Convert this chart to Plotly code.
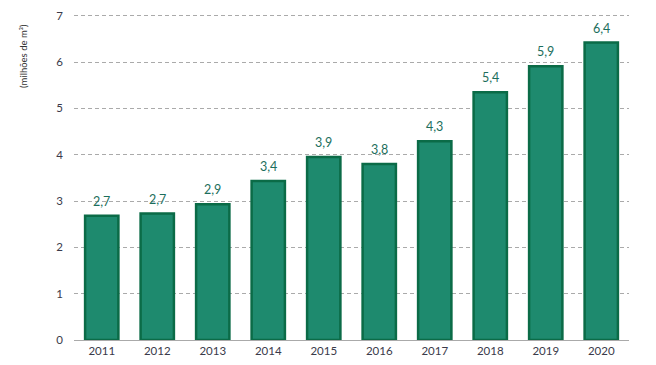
import plotly.graph_objects as go

years = ["2011", "2012", "2013", "2014", "2015", "2016", "2017", "2018", "2019", "2020"]
values = [2.68, 2.73, 2.93, 3.43, 3.95, 3.80, 4.29, 5.35, 5.91, 6.42]
labels = ["2,7", "2,7", "2,9", "3,4", "3,9", "3,8", "4,3", "5,4", "5,9", "6,4"]
y_ticks = [0, 1, 2, 3, 4, 5, 6, 7]

fig = go.Figure(go.Bar(
    x=years, y=values,
    marker=dict(color="#1e8a6e", line=dict(color="#0b6b47", width=2.5)),
    width=0.6,
))

# category axis: annotation positions use the category index
for i, (v, lab) in enumerate(zip(values, labels)):
    fig.add_annotation(
        x=i, y=v, text=lab, showarrow=False, yanchor="bottom", yshift=5,
        font=dict(color="#1c6e5c", size=12.5, family="Lato"),
    )

fig.update_layout(
    width=656, height=365,
    margin=dict(l=66, r=35, t=4, b=33, autoexpand=False),
    plot_bgcolor="white", paper_bgcolor="white",
    font=dict(family="Lato", size=11, color="#444"),
    showlegend=False,
)
fig.update_xaxes(
    type="category", range=[-0.5, len(years) - 0.5],
    showgrid=False, showline=True, linecolor="#aaa",
    linewidth=1, ticks="", automargin=False,
    tickfont=dict(size=11.5, color="#3a3a4a"),
)
fig.update_yaxes(
    range=[0, 7.08], tickvals=y_ticks, showgrid=True, gridcolor="#aaa",
    griddash="4px,3px", gridwidth=1, zeroline=False, showline=False,
    ticks="", automargin=False, ticklabelstandoff=10,
    ticklabeloverflow="allow",
    tickfont=dict(size=11.5, color="#3a3a4a"),
)
fig.add_annotation(
    text="(milhões de m³)", xref="paper", yref="paper", x=-0.09, y=0.97,
    xanchor="center", yanchor="top", textangle=-90, showarrow=False,
    font=dict(size=9.5, color="#333"),
)
fig.write_html("out.html")
